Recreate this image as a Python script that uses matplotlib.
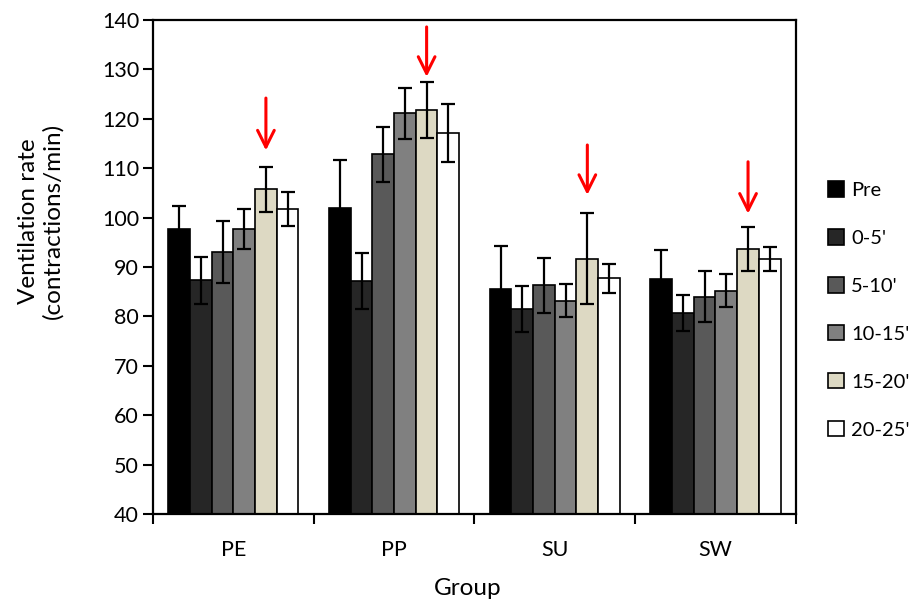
import numpy as np
import matplotlib.pyplot as plt

plt.rcParams['font.family'] = ['Lato', 'DejaVu Sans']

groups = ['PE', 'PP', 'SU', 'SW']
periods = ['Pre', "0-5'", "5-10'", "10-15'", "15-20'", "20-25'"]

# mean ventilation rate per group (rows) and period (columns)
means = [
    [97.7, 87.3, 93.1, 97.7, 105.7, 101.8],
    [102.0, 87.1, 112.8, 121.1, 121.8, 117.1],
    [85.5, 81.5, 86.3, 83.2, 91.7, 87.7],
    [87.5, 80.7, 84.0, 85.2, 93.7, 91.6],
]
errors = [
    [4.6, 4.7, 6.3, 4.1, 4.6, 3.4],
    [9.7, 5.7, 5.6, 5.2, 5.6, 5.9],
    [8.8, 4.7, 5.6, 3.4, 9.2, 3.0],
    [6.0, 3.7, 5.2, 3.3, 4.5, 2.5],
]
colors = ['#000000', '#262626', '#595959', '#808080', '#ddd9c3', '#ffffff']

# red arrows over the 15-20' bar of each group: head and tail levels
arrow_period = 4
arrow_tips = [113.6, 128.5, 104.6, 100.8]
arrow_tails = [124.2, 138.6, 114.7, 111.3]

fig = plt.figure(figsize=(9.19, 6.03), dpi=100)
ax = fig.add_axes([0.1665, 0.1476, 0.6995, 0.8192])

x = np.arange(len(groups))
width = 0.135
means_arr = np.array(means)
err_arr = np.array(errors)

for j, (label, c) in enumerate(zip(periods, colors)):
    offset = (j - (len(periods) - 1) / 2) * width
    ax.bar(x + offset, means_arr[:, j] - 40, width, bottom=40, color=c,
           edgecolor='black', linewidth=1.2, label=label, zorder=2)
    ax.errorbar(x + offset, means_arr[:, j], yerr=err_arr[:, j], fmt='none',
                ecolor='black', elinewidth=1.6, capsize=5, capthick=1.6, zorder=3)

offset = (arrow_period - (len(periods) - 1) / 2) * width
for i in range(len(groups)):
    ax.annotate('', xy=(x[i] + offset, arrow_tips[i]),
                xytext=(x[i] + offset, arrow_tails[i]),
                arrowprops=dict(arrowstyle='->', color='red', lw=2.2,
                                mutation_scale=30, shrinkA=0, shrinkB=0))

ax.set_xlim(-0.5, len(groups) - 0.5)
ax.set_ylim(40, 140)
ax.set_yticks(np.arange(40, 141, 10))
ax.set_xticks(x)
ax.set_xticklabels(groups)
ax.set_xticks(np.arange(-0.5, len(groups)), minor=True)
ax.tick_params(axis='x', which='major', length=0, pad=19, labelsize=15.5)
ax.tick_params(axis='x', which='minor', length=7, width=1.5, direction='out')
ax.tick_params(axis='y', length=7, width=1.5, direction='out', labelsize=15.5, pad=3)

for s in ax.spines.values():
    s.set_linewidth(1.6)

ax.set_xlabel('Group', fontsize=17.5)
ax.xaxis.label.set_va('center')
ax.xaxis.set_label_coords(0.49, -0.15)
ax.set_ylabel('Ventilation rate\n(contractions/min)', fontsize=17.5)
ax.yaxis.label.set_va('center')
ax.yaxis.set_label_coords(-0.175, 0.593)

fig.legend(loc='center left', bbox_to_anchor=(0.892, 0.486), frameon=False,
           fontsize=14.5, labelspacing=1.5, handlelength=0.8, handleheight=0.8,
           handletextpad=0.35, borderaxespad=0)

fig.savefig('out.png', dpi=100)
